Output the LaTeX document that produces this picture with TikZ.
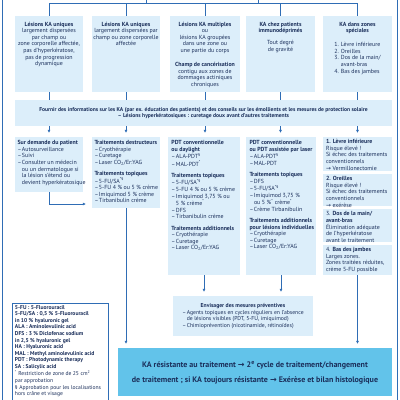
\documentclass[tikz,border=0pt]{standalone}
\usepackage{fontspec}
\setmainfont{PT Sans}
\newfontfamily\arrowfont{DejaVu Sans}
\usepackage{xcolor}
\usetikzlibrary{arrows,arrows.meta}
\usetikzlibrary{calc}
\tikzset{>={Latex[length=3.2pt,width=3.2pt]}}
\definecolor{myblue}{HTML}{2F6DB5}
\definecolor{mylightblue}{HTML}{DCEEFA}
\definecolor{mycyan}{HTML}{62C3EA}
\definecolor{mynavy}{HTML}{1B2F5B}
\newcommand{\listdash}{\makebox[4.5pt][l]{–}}
\newcommand{\listind}{\hspace*{4.5pt}}
\newcommand{\toarrow}{{\arrowfont →}}
\newcommand{\cellc}[3]{\parbox[c][#2pt][t]{#1pt}{\centering\begin{tabular}{@{}c@{}}#3\end{tabular}}}
\newcommand{\celll}[3]{\parbox[c][#2pt][t]{#1pt}{\noindent\begin{tabular}{@{}l@{}}#3\end{tabular}}}

\begin{document}
\begin{tikzpicture}[x=1pt,y=-1pt,
    panel/.style={fill=mylightblue,text=mynavy,inner sep=0pt,outer sep=0pt,
                  anchor=north west,font=\fontsize{5.9}{6.6}\selectfont},
    toprow/.style={panel,inner xsep=1pt,inner ysep=5.5pt},
    midrow/.style={panel,inner xsep=2.5pt,inner ysep=3pt},
    siderow/.style={panel,inner xsep=3pt,inner ysep=2pt},
    link/.style={myblue,line width=0.7pt},
    flow/.style={link,->,shorten >=4pt}
  ]
  \useasboundingbox (0,0) rectangle (400,400);

  % FRAME
  \draw[link] (2.5,0) -- (2.5,400);
  \draw[link] (397.5,0) -- (397.5,400);

  % ROW 1
  \node[toprow] (r1) at (15,16) {\cellc{66}{65}{\textbf{Lésions KA uniques}\\
    largement dispersées\\ par champ ou\\ zone corporelle affectée,\\
    pas d'hyperkératose,\\ pas de progression\\ dynamique}};
  \node[toprow] (r2) at (92,16) {\cellc{66}{65}{\textbf{Lésions KA uniques}\\
    largement dispersées par\\ champ ou zone corporelle\\ affectée}};
  \node[toprow] (r3) at (170,16) {\cellc{68}{65}{\textbf{Lésions KA multiples}\\
    ou\\ lésions KA groupées\\ dans une zone ou\\ une partie du corps\\[7.4pt]
    \textbf{Champ de cancérisation}\\ contigu aux zones de\\
    dommages actiniques\\ chroniques}};
  \node[toprow] (r4) at (246,16) {\cellc{67}{65}{\textbf{KA chez patients}\\
    \textbf{immunodéprimés}\\[5.4pt] Tout degré\\ de gravité}};
  \node[toprow] (r5) at (323,16) {\cellc{67}{65}{\textbf{KA dans zones}\\
    \textbf{spéciales}\\[7.4pt]
    \begin{tabular}[t]{@{}l@{}}1. Lèvre inférieure\\ 2. Oreilles\\
    3. Dos de la main/\\ \hphantom{3. }avant-bras\\ 4. Bas des jambes\end{tabular}}};

  % TREE
  \coordinate (top) at (0,3.5);
  \coordinate (in1) at (146,0);
  \coordinate (in2) at (258,0);
  \draw[link] (r1.north |- top) -- (r5.north |- top);
  \draw[link] (in1) -- (in1 |- top);
  \draw[link] (in2) -- (in2 |- top);
  \foreach \i in {1,...,5}{
    \draw[link] (r\i.north |- top) -- (r\i.north);
  }

  % INFORMATION
  \node[panel,minimum width=377,minimum height=26,align=center,
        font=\bfseries\fontsize{5.6}{6.6}\selectfont] (info) at (15,100)
    {Fournir des informations sur les KA (par ex. éducation des patients) et des conseils sur les émollients et les mesures de protection solaire\\
     – Lésions hyperkératosiques : curetage doux avant d'autres traitements};

  % ROW 2
  \node[midrow] (t1) at (15,137) {\celll{63}{49}{\textbf{Sur demande du patient}\\
    \listdash Autosurveillance\\ \listdash Suivi\\ \listdash Consulter un médecin\\
    \listind ou un dermatologue si\\ \listind la lésion s'étend ou\\
    \listind devient hyperkératosique}};
  \node[midrow] (t2) at (92,137) {\celll{63}{65}{\textbf{Traitements destructeurs}\\
    \listdash Cryothérapie\\ \listdash Curetage\\
    \listdash Laser CO\textsubscript{2}/Er:YAG\\[4.7pt]
    \textbf{Traitements topiques}\\ \listdash 5-FU/SA\textsuperscript{*§}\\
    \listdash 5-FU 4 \% ou 5 \% crème\\ \listdash Imiquimod 5 \% crème\\
    \listdash Tirbanibulin crème}};
  \node[midrow,inner xsep=3.5pt] (t3) at (168,137) {\celll{65}{132}{\textbf{PDT conventionnelle}\\
    \textbf{ou daylight}\\ \listdash ALA-PDT\textsuperscript{§}\\
    \listdash MAL-PDT\textsuperscript{*}\\[4.7pt]
    \textbf{Traitements topiques}\\ \listdash 5-FU/SA\textsuperscript{*§}\\
    \listdash 5-FU 4 \% ou 5 \% crème\\ \listdash Imiquimod 3,75 \% ou\\
    \listind 5 \% crème\textsuperscript{*}\\ \listdash DFS\\
    \listdash Tirbanibulin crème\\[4.7pt]
    \textbf{Traitements additionnels}\\ \listdash Cryothérapie\\
    \listdash Curetage\\ \listdash Laser CO\textsubscript{2}/Er:YAG}};
  \node[midrow,inner xsep=3.5pt] (t4) at (246,137) {\celll{63}{132}{\textbf{PDT conventionnelle}\\
    \textbf{ou PDT assistée par laser}\\ \listdash ALA-PDT\textsuperscript{§}\\
    \listdash MAL-PDT\\[4.7pt]
    \textbf{Traitements topiques}\\ \listdash DFS\\
    \listdash 5-FU/SA\textsuperscript{*§}\\ \listdash Imiquimod 3,75 \%\\
    \listind ou 5 \%\textsuperscript{*} crème\textsuperscript{*}\\
    \listdash Crème Tirbanibulin\\[4.7pt]
    \textbf{Traitements additionnels}\\ \textbf{pour lésions individuelles}\\
    \listdash Cryothérapie\\ \listdash Curetage\\
    \listdash Laser CO\textsubscript{2}/Er:YAG}};

  % SPECIAL ZONES
  \node[siderow] (e1) at (323,137) {\celll{63}{30}{\textbf{1. Lèvre inférieure}\\
    Risque élevé !\\ Si échec des traitements\\ conventionnels\\
    \toarrow{} Vermillonectomie}};
  \node[siderow] (e2) at (323,174) {\celll{63}{28}{\textbf{2. Oreilles}\\
    Risque élevé !\\ Si échec des traitements\\ conventionnels\\
    \toarrow{} exérèse}};
  \node[siderow] (e3) at (323,209) {\celll{63}{29}{3. \textbf{Dos de la main/}\\
    \textbf{avant-bras}\\ Élimination adéquate\\ de l'hyperkératose\\
    avant le traitement}};
  \node[siderow] (e4) at (323,245) {\celll{63}{26}{4. \textbf{Bas des jambes}\\
    Larges zones.\\ Zones traitées réduites,\\ crème 5-FU possible}};

  % PREVENTION
  \node[panel,minimum width=140,minimum height=40,font=\fontsize{5.7}{6.6}\selectfont]
    (prev) at (173,296)
    {\begin{tabular}{@{}l@{}}
     \multicolumn{1}{@{}c@{}}{\textbf{Envisager des mesures préventives}}\\
     \listdash Agents topiques en cycles réguliers en l'absence\\
     \listind de lésions visibles (PDT, 5-FU, imiquimod)\\
     \listdash Chimioprévention (nicotinamide, rétinoïdes)
     \end{tabular}};

  % RESULT
  \node[panel,fill=mycyan,minimum width=274,minimum height=48,
        font=\bfseries\fontsize{8}{15}\selectfont] (fin) at (118,348)
    {\begin{tabular}{@{}c@{}}
     KA résistante au traitement \toarrow{} 2\textsuperscript{e} cycle de traitement/changement\\
     de traitement ; si KA toujours résistante \toarrow{} Exérèse et bilan histologique
     \end{tabular}};

  % LEGEND
  \node[panel,fill=white,draw=myblue,line width=0.8pt,inner xsep=3pt,inner ysep=1.5pt,
        font=\fontsize{5.6}{6.6}\selectfont] (legend) at (12,303)
    {\celll{90}{97}{\textbf{5-FU : 5-Fluorouracil}\\
     \textbf{5-FU/SA : 0,5 \% 5-Fluorouracil}\\
     \textbf{in 10 \% hyaluronic gel}\\
     \textbf{ALA : Aminolevulinic acid}\\
     \textbf{DFS : 3 \% Diclofenac sodium}\\
     \textbf{in 2,5 \% hyaluronic gel}\\
     \textbf{HA : Hyaluronic acid}\\
     \textbf{MAL : Methyl aminolevulinic acid}\\
     \textbf{PDT : Photodynamic therapy}\\
     \textbf{SA : Salicylic acid}\\
     \textsuperscript{*} Restriction de zone de 25 cm\textsuperscript{2}\\
     par approbation\\
     § Approbation pour les localisations\\
     hors crâne et visage}};

  % CONNECTORS
  \foreach \i in {1,...,5}{
    \draw[link] (r\i.south) -- (r\i.south |- info.north);
  }
  \foreach \a/\b in {r1/t1,r2/t2,r3/t3,r4/t4,r5/e1}{
    \draw[flow] (\a.south |- info.south) -- (\a.south |- \b.north);
  }
  \draw[flow,shorten >=6pt] (t1.south) |- ($(t2.south west)+(0,-4)$);
  \draw[flow] (t2.south) -- (t2.south |- fin.north);
  \draw[flow] (t3.south) -- (t3.south |- prev.north);
  \draw[flow] (t4.south) -- (t4.south |- prev.north);
  \draw[flow] (e4.south) -- (e4.south |- fin.north);

\end{tikzpicture}
\end{document}
